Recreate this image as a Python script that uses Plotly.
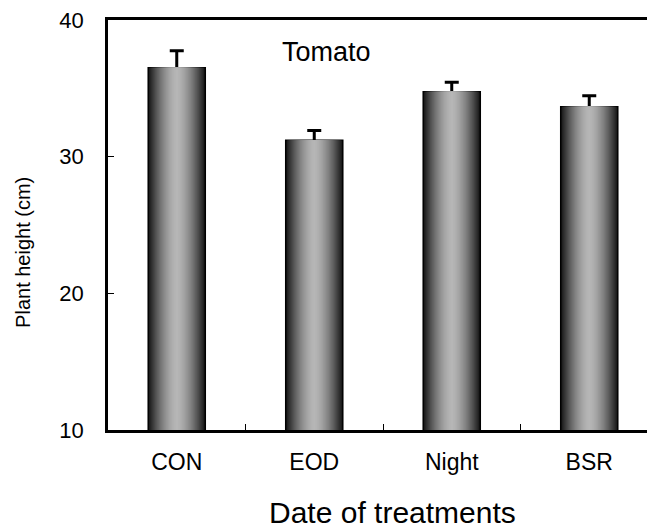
import plotly.graph_objects as go

categories = ["CON", "EOD", "Night", "BSR"]
heights = [36.5, 31.2, 34.75, 33.65]
errors = [1.25, 0.72, 0.7, 0.8]
y_ticks = [10, 20, 30, 40]

W = 0.415
N = 26
FONT = "Arial, Liberation Sans, sans-serif"

fig = go.Figure()
for i in range(N):
    frac_out = 1 - i / N
    frac_in = 1 - (i + 1) / N
    d = (frac_out + frac_in) / 2
    v = int(round(182 - 165 * d ** 1.6))
    color = f"rgb({v},{v},{v})"
    first = i == 0
    fig.add_trace(go.Bar(
        x=categories, y=heights, width=W * frac_out,
        marker=dict(color=color,
                    line=dict(color="black", width=1.5 if first else 0)),
        base=0,
        error_y=dict(type="data", array=errors, symmetric=True,
                     color="black", thickness=3, width=7, visible=first),
        showlegend=False, hoverinfo="skip",
    ))

fig.update_layout(
    width=647, height=530,
    margin=dict(l=108, r=0, t=20, b=100),
    barmode="overlay",
    plot_bgcolor="white", paper_bgcolor="white",
    font=dict(family=FONT, color="black"),
    xaxis=dict(
        type="category", range=[-0.5, 3.42],
        showline=True, linecolor="black", linewidth=2.5, mirror=True,
        ticks="inside", ticklen=6, tickwidth=1, tickcolor="black",
        tickson="boundaries", ticklabelstandoff=10,
        tickfont=dict(size=23, family=FONT), showgrid=False, zeroline=False,
    ),
    yaxis=dict(
        range=[10, 40], tickvals=y_ticks,
        showline=True, linecolor="black", linewidth=2.5,
        ticks="inside", ticklen=6, tickwidth=1, tickcolor="black",
        ticklabelstandoff=17,
        tickfont=dict(size=22, family=FONT), showgrid=False, zeroline=False,
    ),
    annotations=[
        dict(text="Tomato", xref="paper", yref="paper", x=0.406, y=0.922,
             xanchor="center", yanchor="middle", showarrow=False,
             font=dict(size=27, family=FONT)),
        dict(text="Date of treatments", xref="paper", yref="paper", x=0.528, y=-0.2,
             xanchor="center", yanchor="middle", showarrow=False,
             font=dict(size=30, family=FONT)),
        dict(text="Plant height (cm)", xref="paper", yref="paper", x=-0.158, y=0.434,
             xanchor="center", yanchor="middle", showarrow=False, textangle=-90,
             font=dict(size=20, family=FONT)),
    ],
)

fig.write_html("out.html")
